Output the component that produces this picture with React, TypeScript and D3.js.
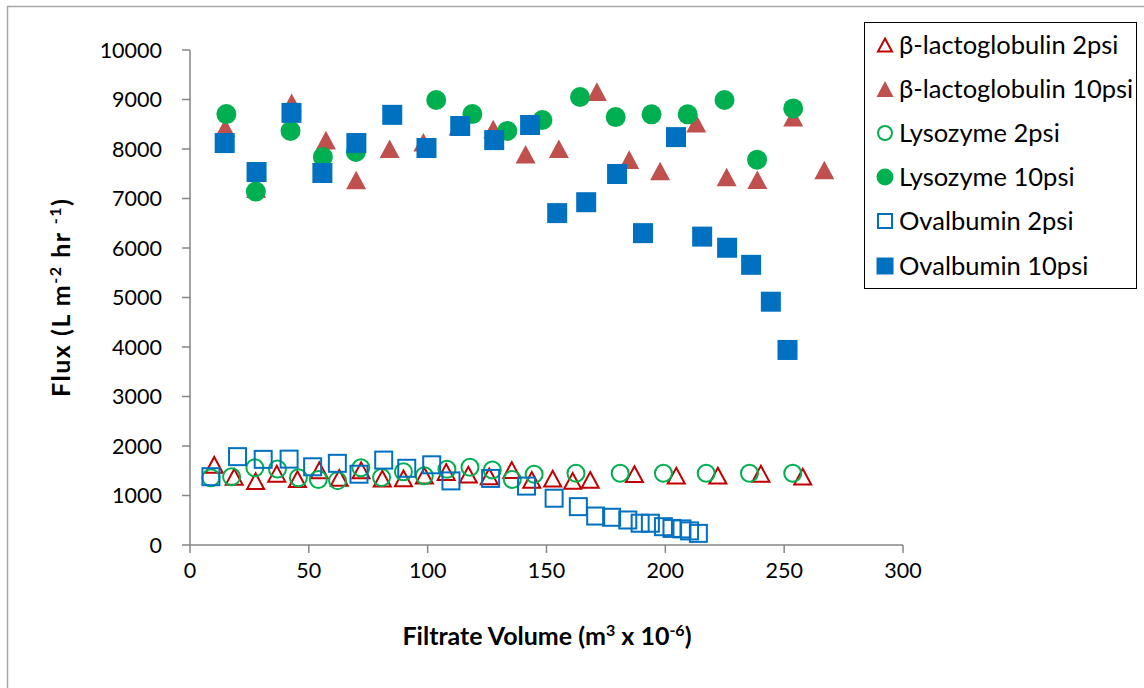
import React from "react";
import * as d3 from "d3";

const xTicks = [0, 50, 100, 150, 200, 250, 300];
const yTicks = [0, 1000, 2000, 3000, 4000, 5000, 6000, 7000, 8000, 9000, 10000];

const blg2X = [10.2, 18.6, 27.6, 36.5, 45.2, 54.4, 62.8, 72.0, 80.9, 89.8, 98.6, 107.8, 117.1, 125.9, 135.4, 143.8, 152.6, 161.0, 168.4, 187.0, 204.6, 222.1, 240.2, 257.8];
const blg2Y = [1620, 1375, 1290, 1440, 1330, 1510, 1355, 1510, 1340, 1345, 1400, 1475, 1420, 1385, 1515, 1315, 1340, 1295, 1315, 1430, 1400, 1400, 1440, 1380];

const blg10X = [14.8, 27.8, 42.8, 57.2, 69.9, 84.0, 98.2, 113.0, 127.6, 141.2, 155.2, 171.2, 184.8, 197.8, 213.0, 225.8, 238.7, 253.8, 266.9];
const blg10Y = [8430, 7200, 8935, 8180, 7375, 8005, 8135, 8460, 8405, 7895, 8005, 9160, 7785, 7555, 8520, 7435, 7380, 8640, 7575];

const lys2X = [8.8, 17.5, 27.3, 36.8, 45.6, 54.0, 62.1, 71.9, 80.6, 89.8, 98.6, 108.1, 117.8, 127.2, 135.6, 144.8, 162.4, 181.0, 199.2, 217.2, 235.4, 253.6];
const lys2Y = [1360, 1380, 1560, 1535, 1360, 1325, 1300, 1560, 1365, 1480, 1400, 1530, 1570, 1515, 1325, 1430, 1450, 1450, 1450, 1450, 1450, 1450];

const lys10X = [15.3, 27.7, 42.3, 55.9, 69.8, 103.6, 118.8, 133.5, 148.3, 164.1, 179.1, 194.2, 209.4, 224.9, 238.6, 253.8];
const lys10Y = [8705, 7140, 8365, 7840, 7940, 8990, 8705, 8365, 8585, 9050, 8645, 8700, 8700, 8990, 7785, 8820];

const ova2X = [8.8, 20.0, 30.8, 41.7, 51.6, 62.0, 71.1, 81.5, 91.2, 101.7, 109.8, 126.5, 141.6, 153.2, 163.4, 170.7, 177.4, 184.2, 189.4, 193.7, 199.2, 202.8, 207.0, 210.2, 213.9];
const ova2Y = [1380, 1785, 1730, 1735, 1580, 1650, 1430, 1715, 1550, 1620, 1295, 1345, 1190, 945, 775, 585, 560, 505, 440, 440, 370, 335, 325, 285, 235];

const ova10X = [14.6, 28.0, 42.7, 55.7, 70.0, 85.1, 99.5, 113.7, 128.0, 143.1, 154.5, 166.7, 179.7, 190.6, 204.5, 215.5, 226.0, 236.1, 244.4, 251.4];
const ova10Y = [8120, 7535, 8730, 7515, 8120, 8690, 8020, 8465, 8180, 8485, 6705, 6925, 7495, 6300, 8240, 6230, 6005, 5660, 4915, 3940];

type Shape = "triangle" | "circle" | "square";
interface Series { name: string; xs: number[]; ys: number[]; shape: Shape; filled: boolean; color: string; }

const series: Series[] = [
  { name: "β-lactoglobulin 2psi", xs: blg2X, ys: blg2Y, shape: "triangle", filled: false, color: "#C00000" },
  { name: "β-lactoglobulin 10psi", xs: blg10X, ys: blg10Y, shape: "triangle", filled: true, color: "#C0504D" },
  { name: "Lysozyme 2psi", xs: lys2X, ys: lys2Y, shape: "circle", filled: false, color: "#00B050" },
  { name: "Lysozyme 10psi", xs: lys10X, ys: lys10Y, shape: "circle", filled: true, color: "#00B050" },
  { name: "Ovalbumin 2psi", xs: ova2X, ys: ova2Y, shape: "square", filled: false, color: "#0070C0" },
  { name: "Ovalbumin 10psi", xs: ova10X, ys: ova10Y, shape: "square", filled: true, color: "#0070C0" },
];

const FONT = "Lato, 'Open Sans', sans-serif";

function Marker({ shape, filled, color, cx, cy, size }: { shape: Shape; filled: boolean; color: string; cx: number; cy: number; size: number }) {
  const sw = filled ? 0 : 2;
  const s = filled ? size : size - 2;
  const fill = filled ? color : "none";
  const stroke = filled ? "none" : color;
  if (shape === "circle") {
    return <circle cx={cx} cy={cy} r={s / 2} fill={fill} stroke={stroke} strokeWidth={sw} />;
  }
  if (shape === "square") {
    return <rect x={cx - s / 2} y={cy - s / 2} width={s} height={s} fill={fill} stroke={stroke} strokeWidth={sw} />;
  }
  const h = s * 0.93;
  const p = d3.path();
  p.moveTo(cx, cy - h / 2);
  p.lineTo(cx + s / 2, cy + h / 2);
  p.lineTo(cx - s / 2, cy + h / 2);
  p.closePath();
  return <path d={p.toString()} fill={fill} stroke={stroke} strokeWidth={sw} strokeLinejoin="miter" />;
}

export default function App() {
  const W = 1144, H = 688;
  const x = d3.scaleLinear().domain([0, 300]).range([190, 903]);
  const y = d3.scaleLinear().domain([0, 10000]).range([545, 50]);
  const axisColor = "#868686";
  const legendRows = [45, 89, 133, 177, 221, 266];

  return (
    <svg width={W} height={H} style={{ position: "absolute", left: 0, top: 0, background: "#fff" }} fontFamily={FONT}>
      <rect x={0} y={0} width={W} height={H} fill="#fff" />
      <rect x={7.5} y={6.5} width={W + 10} height={H + 10} fill="none" stroke="#A6A6A6" strokeWidth={1.5} />

      {/* y axis */}
      <line x1={x(0)} x2={x(0)} y1={y(10000)} y2={y(0)} stroke={axisColor} strokeWidth={1.5} />
      {yTicks.map((t) => (
        <g key={"yt" + t}>
          <line x1={x(0) - 8} x2={x(0)} y1={y(t)} y2={y(t)} stroke={axisColor} strokeWidth={1.5} />
          <text x={162} y={y(t)} dy="0.35em" textAnchor="end" fontSize={21.5} fill="#000">{t}</text>
        </g>
      ))}
      {/* x axis */}
      <line x1={x(0)} x2={x(300)} y1={y(0)} y2={y(0)} stroke={axisColor} strokeWidth={1.5} />
      {xTicks.map((t) => (
        <g key={"xt" + t}>
          <line x1={x(t)} x2={x(t)} y1={y(0)} y2={y(0) + 8} stroke={axisColor} strokeWidth={1.5} />
          <text x={x(t)} y={578} textAnchor="middle" fontSize={21.5} fill="#000">{t}</text>
        </g>
      ))}

      {/* titles */}
      <text x={547} y={645} textAnchor="middle" fontSize={25} fontWeight="bold" fill="#000">
        Filtrate Volume (m<tspan dy={-9} fontSize={16}>3</tspan><tspan dy={9}> x 10</tspan><tspan dy={-9} fontSize={16}>-6</tspan><tspan dy={9}>)</tspan>
      </text>
      <text transform={`translate(70,298) rotate(-90)`} textAnchor="middle" fontSize={25} fontWeight="bold" fill="#000" textLength={198} lengthAdjust="spacing">
        Flux (L m<tspan dy={-9} fontSize={16}>-2</tspan><tspan dy={9}> hr </tspan><tspan dy={-9} fontSize={16}>-1</tspan><tspan dy={9}>)</tspan>
      </text>

      {/* data */}
      {series.map((s, si) => (
        <g key={"s" + si}>
          {s.xs.map((xv, i) => (
            <Marker key={i} shape={s.shape} filled={s.filled} color={s.color} cx={x(xv)} cy={y(s.ys[i])} size={s.filled ? 20 : 19} />
          ))}
        </g>
      ))}

      {/* legend */}
      <rect x={864.5} y={22.5} width={272} height={266} fill="#fff" stroke="#000" strokeWidth={1} />
      {series.map((s, i) => (
        <g key={"lg" + i}>
          <Marker shape={s.shape} filled={s.filled} color={s.color} cx={885} cy={legendRows[i]} size={s.filled ? 17 : 16} />
          <text x={899} y={legendRows[i]} dy="0.35em" fontSize={25.5} fill="#000">{s.name}</text>
        </g>
      ))}
    </svg>
  );
}
